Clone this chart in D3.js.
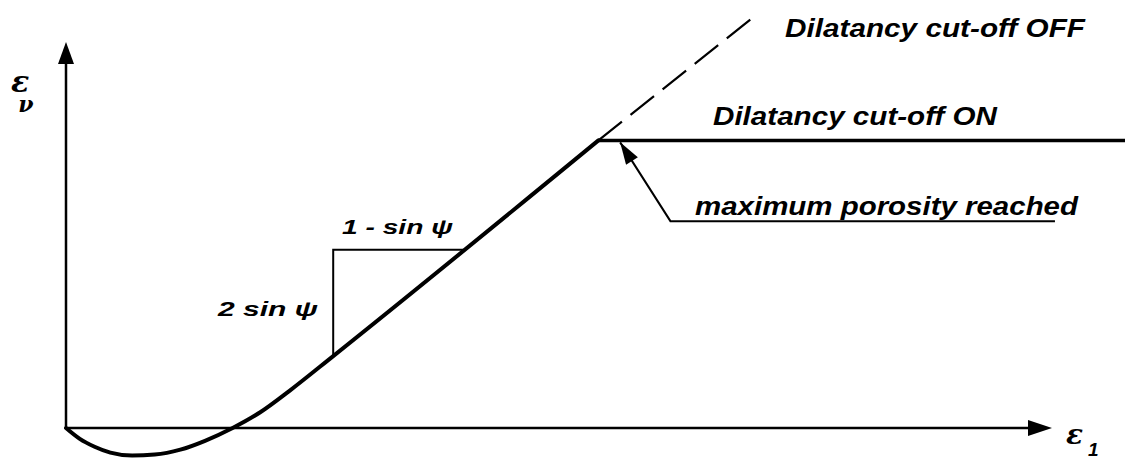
<!DOCTYPE html>
<html>
<head>
<meta charset="utf-8">
<script src="https://cdn.jsdelivr.net/npm/d3@7"></script>
<style>
  html, body { margin: 0; padding: 0; background: #fff; }
  .lbl { font-family: "Liberation Sans", Arial, sans-serif; font-weight: bold; font-style: italic; fill: #000; }
  .sym { font-family: "DejaVu Serif", serif; font-weight: bold; font-style: italic; fill: #000; }
</style>
</head>
<body>
<div id="chart"></div>
<script>
// Volumetric strain vs axial strain
const curveE1 = [0, 0.14, 0.29, 0.45, 0.67, 0.90, 1.16, 1.41, 1.69, 1.97, 2.27, 2.71, 5.40];
const curveEv = [0, -0.11, -0.19, -0.25, -0.28, -0.27, -0.22, -0.13, 0, 0.16, 0.38, 0.73, 2.92];

// cut-off ON: plateau after peak; cut-off OFF: dashed continuation
const plateauE1 = [5.40, 10.8];
const plateauEv = [2.92, 2.92];
const offE1 = [5.40, 7.02];
const offEv = [2.92, 4.21];

// slope triangle
const triE1 = [2.71, 2.71, 4.03];
const triEv = [0.73, 1.81, 1.81];

// "maximum porosity reached" pointer
const ptrE1 = [10.03, 6.13, 5.62];
const ptrEv = [2.10, 2.10, 2.90];

const width = 1125, height = 461;

const svg = d3.select("#chart").append("svg")
  .attr("width", width)
  .attr("height", height);

const x = d3.scaleLinear().domain([0, 10]).range([66, 1052]);
const y = d3.scaleLinear().domain([0, 4]).range([428, 34]);

// Axes with arrow heads
svg.append("line")
  .attr("x1", x(0)).attr("y1", y(0))
  .attr("x2", x(0)).attr("y2", 60)
  .attr("stroke", "#000").attr("stroke-width", 2.5);
svg.append("path")
  .attr("d", `M${x(0)},42 L${x(0) - 8},64 L${x(0) + 8},64 Z`)
  .attr("fill", "#000");

svg.append("line")
  .attr("x1", x(0)).attr("y1", y(0))
  .attr("x2", x(10) - 20).attr("y2", y(0))
  .attr("stroke", "#000").attr("stroke-width", 2.5);
svg.append("path")
  .attr("d", `M${x(10)},${y(0)} L${x(10) - 24},${y(0) - 8} L${x(10) - 24},${y(0) + 8} Z`)
  .attr("fill", "#000");

// Slope triangle
const straight = d3.line().x(d => x(d[0])).y(d => y(d[1]));
svg.append("path")
  .attr("d", straight(d3.zip(triE1, triEv)))
  .attr("fill", "none")
  .attr("stroke", "#000")
  .attr("stroke-width", 2);

// Main curve
const curve = d3.line()
  .x(d => x(d[0]))
  .y(d => y(d[1]))
  .curve(d3.curveMonotoneX);
svg.append("path")
  .attr("d", curve(d3.zip(curveE1, curveEv)))
  .attr("fill", "none")
  .attr("stroke", "#000")
  .attr("stroke-width", 4)
  .attr("stroke-linecap", "round");

// Cut-off ON plateau
svg.append("path")
  .attr("d", straight(d3.zip(plateauE1, plateauEv)))
  .attr("fill", "none")
  .attr("stroke", "#000")
  .attr("stroke-width", 3.5);

// Cut-off OFF dashed line
svg.append("path")
  .attr("d", straight(d3.zip(offE1, offEv)))
  .attr("fill", "none")
  .attr("stroke", "#000")
  .attr("stroke-width", 2.2)
  .attr("stroke-dasharray", "30,11");

// Pointer with arrow head
svg.append("path")
  .attr("d", straight(d3.zip(ptrE1, ptrEv)))
  .attr("fill", "none")
  .attr("stroke", "#000")
  .attr("stroke-width", 2);
const tip = [x(ptrE1[2]), y(ptrEv[2])];
const from = [x(ptrE1[1]), y(ptrEv[1])];
const dx = from[0] - tip[0], dy = from[1] - tip[1];
const len = Math.hypot(dx, dy);
const ux = dx / len, uy = dy / len;
const hl = 22, hw = 7;
const bx = tip[0] + ux * hl, by = tip[1] + uy * hl;
svg.append("path")
  .attr("d", `M${tip[0]},${tip[1]} L${bx - uy * hw},${by + ux * hw} L${bx + uy * hw},${by - ux * hw} Z`)
  .attr("fill", "#000");

// Text labels
function label(txt, px, py, size, w) {
  svg.append("text")
    .attr("class", "lbl")
    .attr("x", px).attr("y", py)
    .attr("font-size", size)
    .attr("textLength", w)
    .attr("lengthAdjust", "spacingAndGlyphs")
    .text(txt);
}
label("Dilatancy cut-off OFF", 785, 37, 25, 300);
label("Dilatancy cut-off ON", 713, 125, 26, 284);
label("maximum porosity reached", 695, 215, 26, 383);
label("1 - sin \u03C8", 342, 234, 21, 111);
label("2 sin \u03C8", 218, 316, 21, 100);

// Axis symbols (subscript as tspan)
const ev = svg.append("text").attr("class", "sym")
  .attr("x", 11).attr("y", 92).attr("font-size", 30);
ev.append("tspan").text("\u03B5");
ev.append("tspan").attr("dx", -11).attr("dy", 20).attr("font-size", 22).text("\u03BD");

const e1 = svg.append("text").attr("class", "sym")
  .attr("x", 1066).attr("y", 444).attr("font-size", 28);
e1.append("tspan").text("\u03B5");
e1.append("tspan").attr("class", "lbl").attr("dx", 5).attr("dy", 12).attr("font-size", 19).text("1");
</script>
</body>
</html>
